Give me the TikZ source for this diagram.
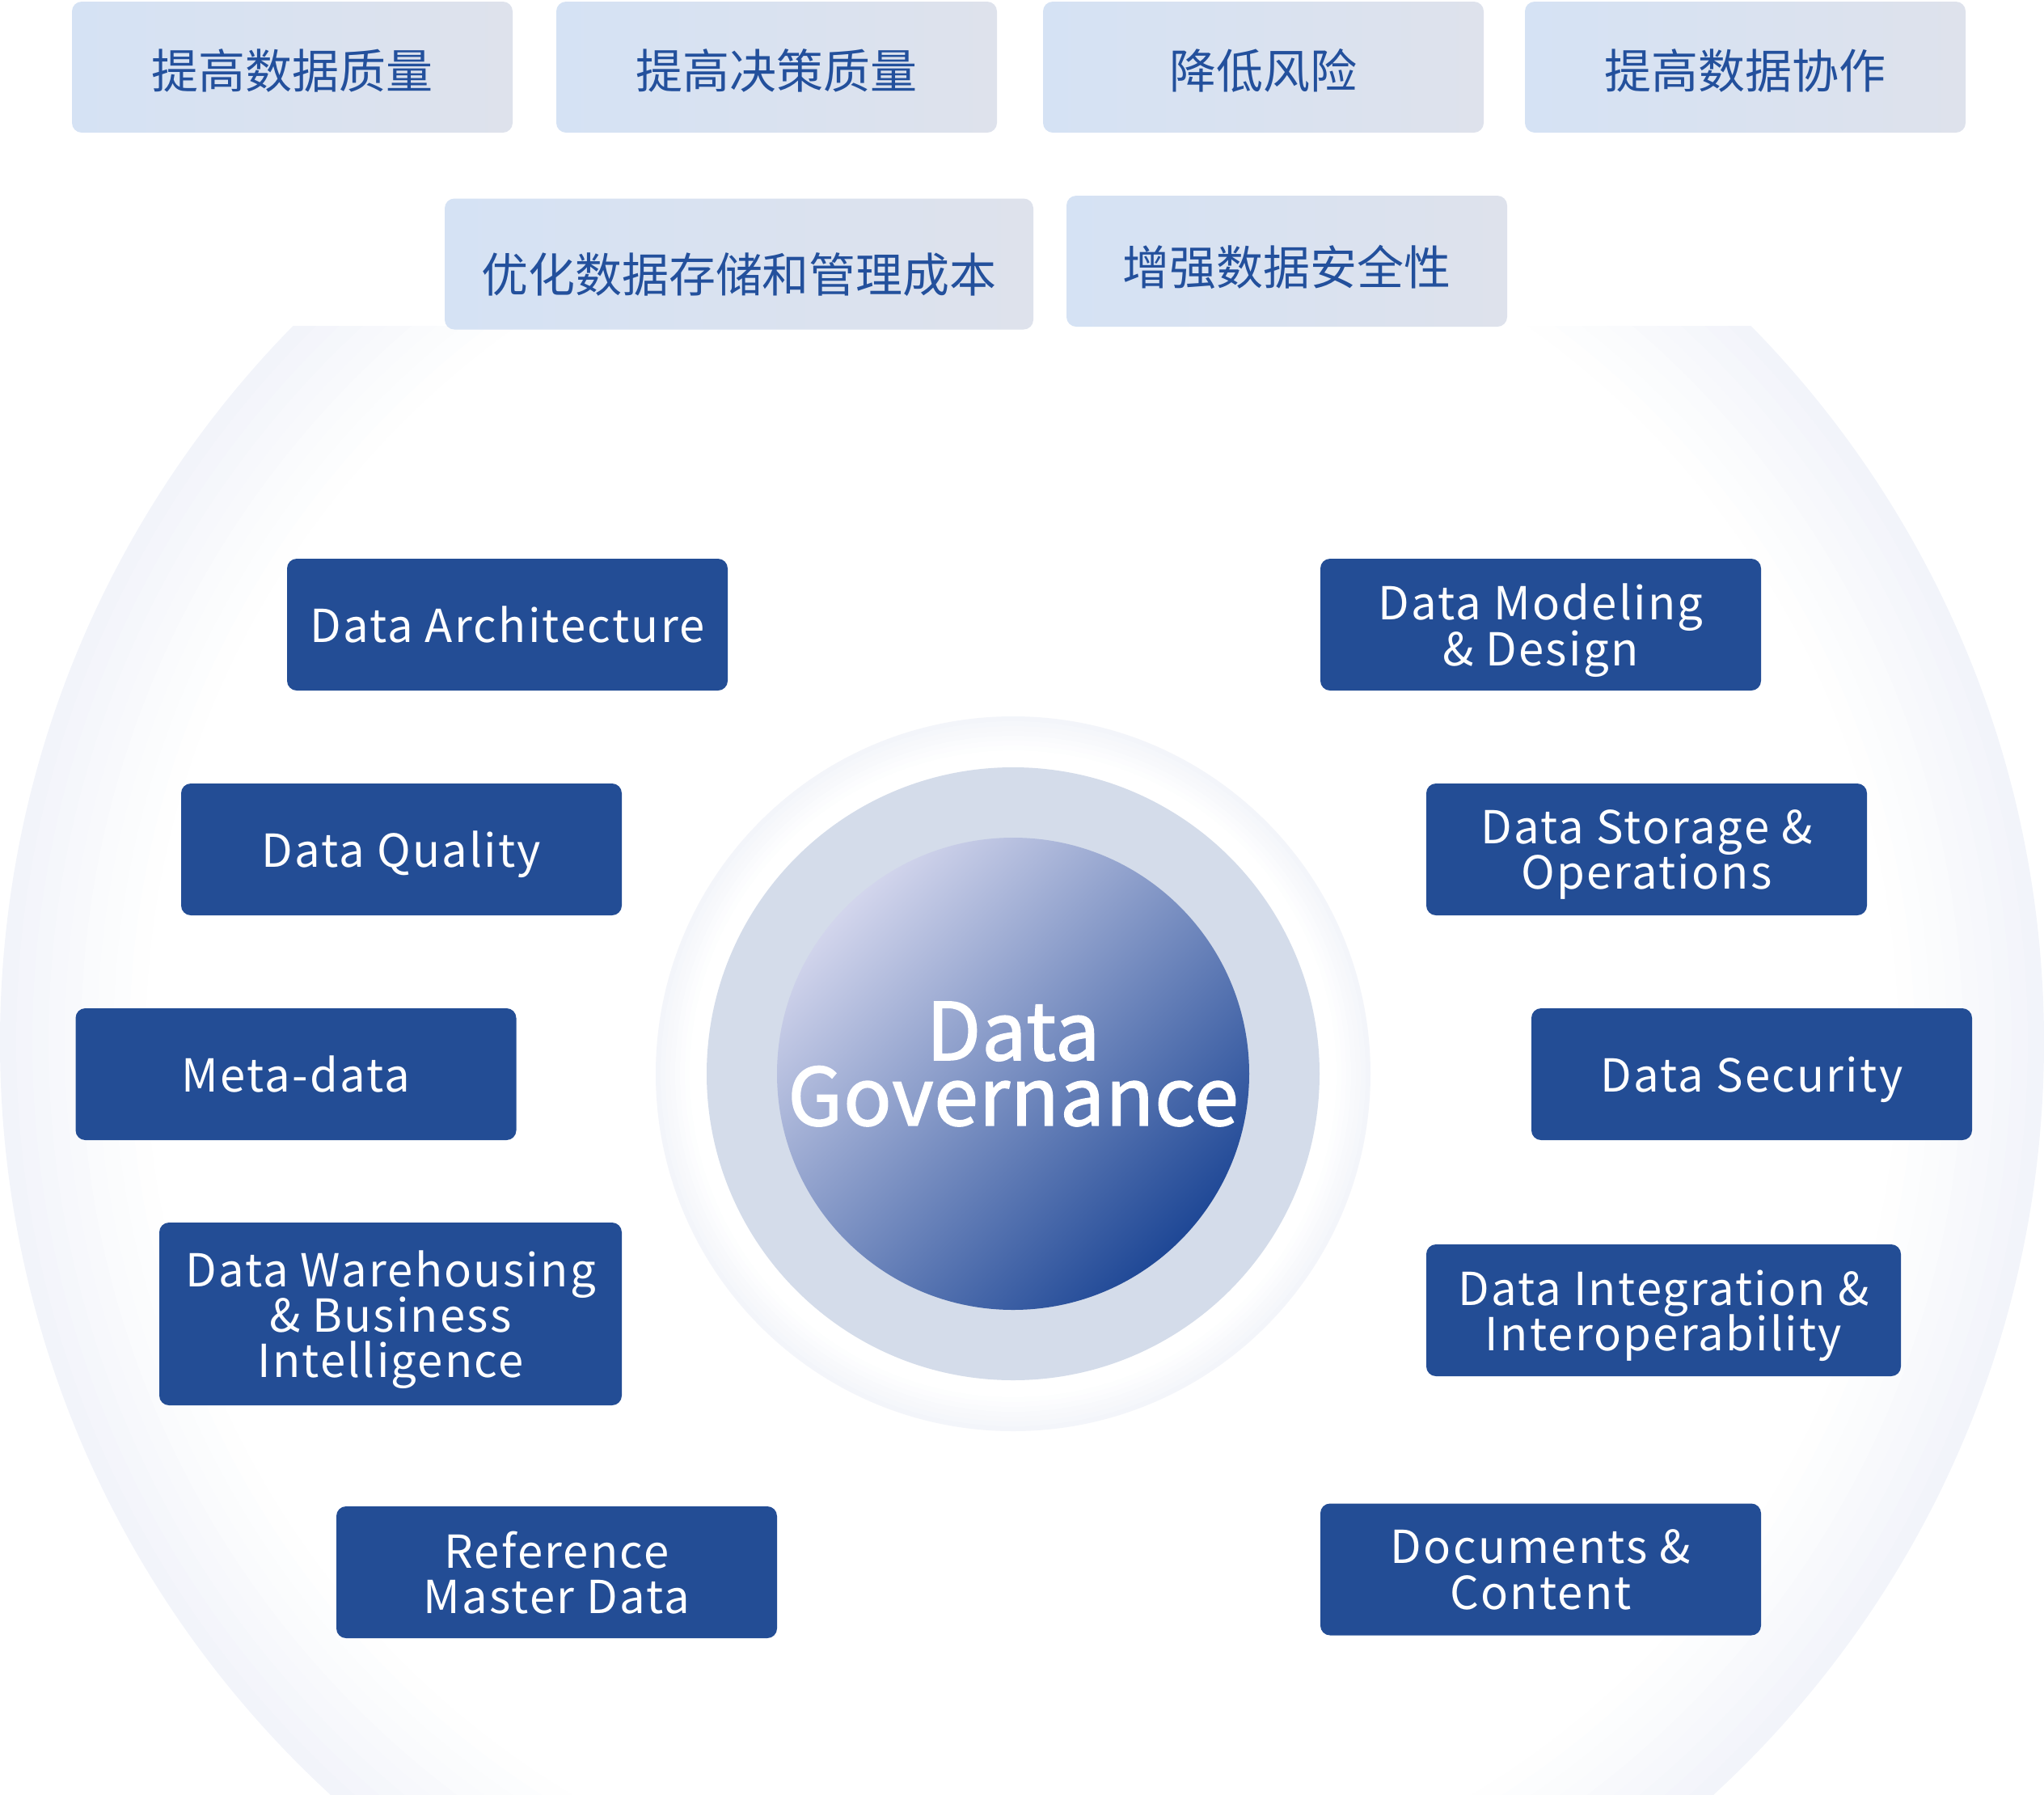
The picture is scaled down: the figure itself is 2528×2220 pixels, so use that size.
\documentclass[tikz,border=0pt]{standalone}
\usepackage{fontspec}
\setmainfont{Noto Sans CJK SC}
\newfontfamily\areafont[LetterSpace=4]{Noto Sans CJK SC}
\newfontfamily\corefont[LetterSpace=1, FakeBold=1.6]{Noto Sans CJK SC}
\lineskiplimit=-100pt

\definecolor{goalblue}{HTML}{D5E2F4}
\definecolor{goalgrey}{HTML}{DEE2EC}
\definecolor{goaltext}{HTML}{23509C}
\definecolor{areablue}{HTML}{234D95}
\definecolor{ringblue}{HTML}{D4DCEA}
\definecolor{glowedge}{HTML}{F2F4FA}
\definecolor{ringedge}{HTML}{F3F5FA}
\definecolor{corelight}{HTML}{D2D5EC}
\definecolor{coredark}{HTML}{1F4896}

\tikzstyle{goal} = [rounded corners=1.2mm, left color=goalblue, right color=goalgrey, text=goaltext, minimum width=54.5mm, minimum height=16.2mm, inner sep=0pt, text height=5.2mm, text depth=0pt, font=\fontsize{16.5}{16.5}\selectfont]
\tikzstyle{area} = [rounded corners=1.2mm, fill=areablue, text=white, minimum width=54.5mm, minimum height=16.3mm, inner sep=0pt, align=center, text depth=0pt, font=\areafont\fontsize{16}{16}\selectfont]
\tikzstyle{core} = [circle, minimum size=58.4mm, inner sep=0pt, left color=corelight, right color=coredark, shading angle=45]
\tikzstyle{coretext} = [text=white, align=center, inner sep=0pt, font=\corefont\fontsize{28}{23}\selectfont]

\begin{document}
\begin{tikzpicture}[x=0.1mm, y=-0.1mm]
\useasboundingbox (0,0) rectangle (2528,2220);

% pale lens behind everything, tinted at its rim
\begin{scope}
\clip (0,403) rectangle (2528,2220);
\foreach \d/\m in {0/100, 20/88, 40/76, 60/64, 80/52, 100/40, 120/30, 140/20, 160/10, 180/0}
  \fill[glowedge!\m!white] (1264,1289) circle (1264-\d);
\end{scope}

% goals
\node (g1) [goal] at (361.5,83) {提高数据质量};
\node (g2) [goal] at (960.5,83) {提高决策质量};
\node (g3) [goal] at (1562.5,83) {降低风险};
\node (g4) [goal] at (2158.5,83) {提高数据协作};
\node (g5) [goal, minimum width=72.8mm, text height=7mm] at (914,326.5) {优化数据存储和管理成本};
\node (g6) [goal, text height=5.8mm] at (1591.5,323) {增强数据安全性};

% centre
\coordinate (c) at (1253,1328);
\foreach \d/\m in {0/100, 6/85, 12/70, 18/55, 24/40, 30/25, 36/12, 42/0}
  \fill[ringedge!\m!white] (c) circle (442-\d);
\fill[ringblue] (c) circle (379);
\node (core) [core] at (c) {};
\node (coretitle) [coretext] at (1253,1316) {Data\\Governance};

% knowledge areas
\node (arch) [area] at (627.5,772.5) {Data Architecture};
\node (quality) [area] at (496.5,1050.5) {Data Quality};
\node (meta) [area] at (366,1328.5) {Meta-data};
\node (dwbi) [area, minimum width=57.2mm, minimum height=22.6mm] at (483,1625) {Data Warehousing\\\& Business\\Intelligence};
\node (ref) [area] at (688.5,1944.5) {Reference\\Master Data};
\node (model) [area] at (1905.5,772.5) {Data Modeling\\\& Design};
\node (storage) [area] at (2036.5,1050.5) {Data Storage \&\\Operations};
\node (security) [area] at (2166.5,1328.5) {Data Security};
\node (integ) [area, minimum width=58.7mm] at (2057.5,1620.5) {Data Integration \&\\Interoperability};
\node (docs) [area] at (1905.5,1941) {Documents \&\\Content};

\end{tikzpicture}
\end{document}
